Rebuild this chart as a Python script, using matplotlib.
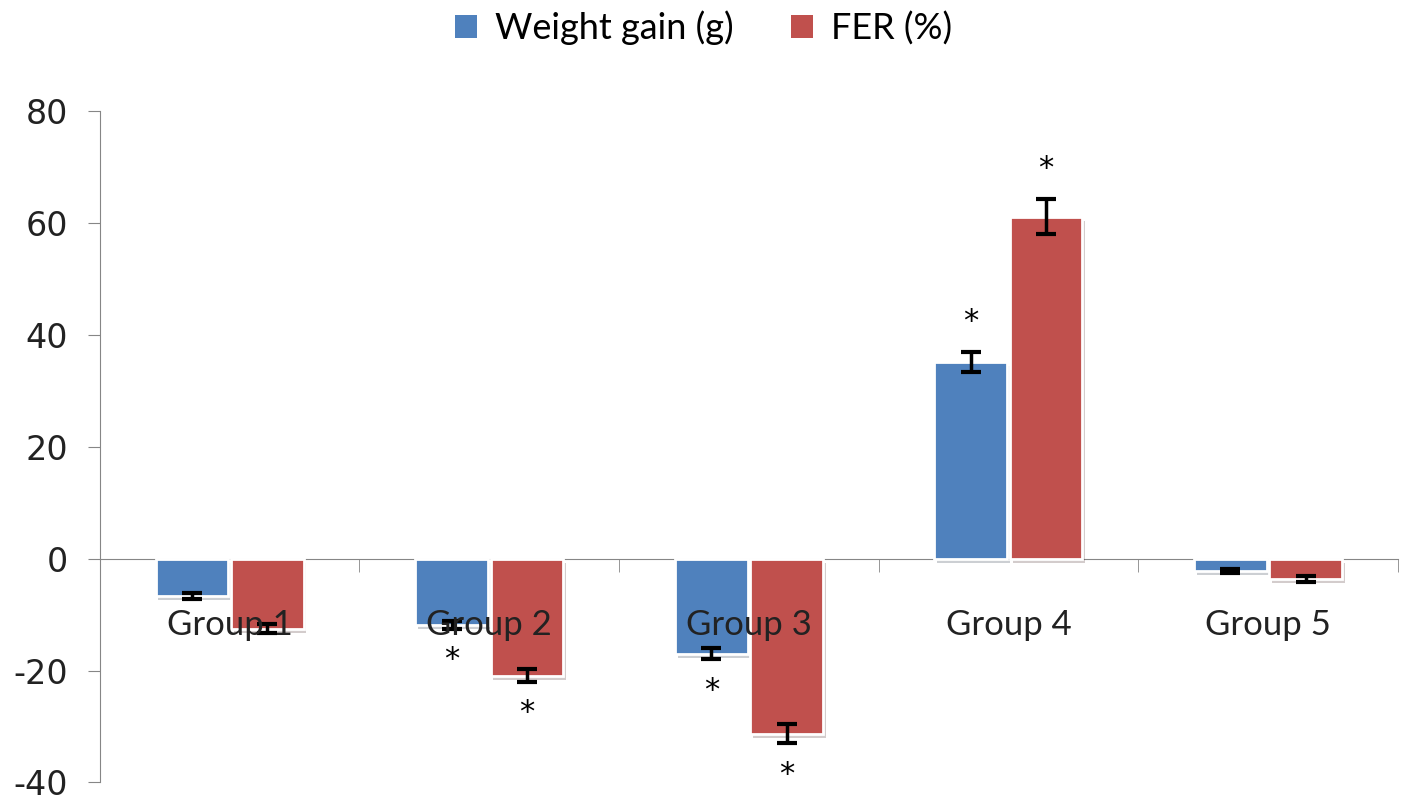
import matplotlib.pyplot as plt
import matplotlib.patheffects as pe
from matplotlib.patches import Patch
import numpy as np

# dados
grupos = ['Group 1', 'Group 2', 'Group 3', 'Group 4', 'Group 5']
ganho_peso = [-6.7, -11.9, -17.0, 35.1, -2.2]
ganho_peso_err = [0.5, 0.7, 1.0, 1.8, 0.4]
fer = [-12.5, -20.9, -31.3, 61.1, -3.6]
fer_err = [0.8, 1.1, 1.7, 3.1, 0.5]
# asteriscos (significância)
sig_peso = [False, True, True, True, False]
sig_fer = [False, True, True, True, False]

azul = '#4F81BD'
vermelho = '#C0504D'
cinza = '#868686'

plt.rcParams['font.family'] = ['Lato', 'DejaVu Sans']
plt.rcParams['axes.unicode_minus'] = False

fig = plt.figure(figsize=(14.07, 8.05), dpi=100)
ax = fig.add_axes([0.071, 0.028, 0.9225, 0.834])

x = np.arange(len(grupos))
largura = 0.28
sombra = [pe.SimplePatchShadow(offset=(2, -3), alpha=0.22), pe.Normal()]

b1 = ax.bar(x - largura / 2 - 0.005, ganho_peso, width=largura, color=azul,
            edgecolor='white', linewidth=2, zorder=2)
b2 = ax.bar(x + largura / 2 + 0.005, fer, width=largura, color=vermelho,
            edgecolor='white', linewidth=2, zorder=2)
for b in list(b1) + list(b2):
    b.set_path_effects(sombra)

ax.errorbar(x - largura / 2 - 0.005, ganho_peso, yerr=ganho_peso_err, fmt='none',
            ecolor='black', elinewidth=2.5, capsize=7, capthick=3, zorder=3)
ax.errorbar(x + largura / 2 + 0.005, fer, yerr=fer_err, fmt='none',
            ecolor='black', elinewidth=2.5, capsize=7, capthick=3, zorder=3)

# asteriscos acima/abaixo das barras
desloc = 5.5
for i in range(len(grupos)):
    if sig_peso[i]:
        v = ganho_peso[i]
        s = 1 if v > 0 else -1
        ax.text(x[i] - largura / 2 - 0.005, v + s * (ganho_peso_err[i] + desloc), '*',
                ha='center', va='center', fontsize=22, family='DejaVu Sans', zorder=4)
    if sig_fer[i]:
        v = fer[i]
        s = 1 if v > 0 else -1
        ax.text(x[i] + largura / 2 + 0.005, v + s * (fer_err[i] + desloc), '*',
                ha='center', va='center', fontsize=22, family='DejaVu Sans', zorder=4)

ax.set_xlim(-0.5, len(grupos) - 0.5)
ax.set_ylim(-40, 80)
ax.set_yticks(range(-40, 81, 20))

ax.spines['top'].set_visible(False)
ax.spines['right'].set_visible(False)
ax.spines['bottom'].set_position(('data', 0))
ax.spines['bottom'].set_color(cinza)
ax.spines['left'].set_color(cinza)
ax.spines['bottom'].set_zorder(1)

ax.set_xticks(x)
ax.set_xticklabels(grupos)
ax.set_xticks(np.arange(-0.5, len(grupos), 1.0), minor=True)
ax.tick_params(axis='x', which='major', length=0, pad=36, labelsize=25, labelcolor='#222222')
ax.tick_params(axis='x', which='minor', length=9, color=cinza)
ax.tick_params(axis='y', length=9, color=cinza, labelsize=24, pad=14,
               labelcolor='#222222')
ax.xaxis.set_zorder(5)
for t in ax.get_yticklabels():
    t.set_family('DejaVu Sans')

legenda = [Patch(facecolor=azul, label='Weight gain (g)'),
           Patch(facecolor=vermelho, label='FER (%)')]
fig.legend(handles=legenda, loc='upper center', bbox_to_anchor=(0.5, 1.027), ncol=2,
           frameon=False, fontsize=26, handlelength=0.6, handleheight=0.6,
           handletextpad=0.5, columnspacing=1.6)

fig.savefig('out.png', dpi=100)
